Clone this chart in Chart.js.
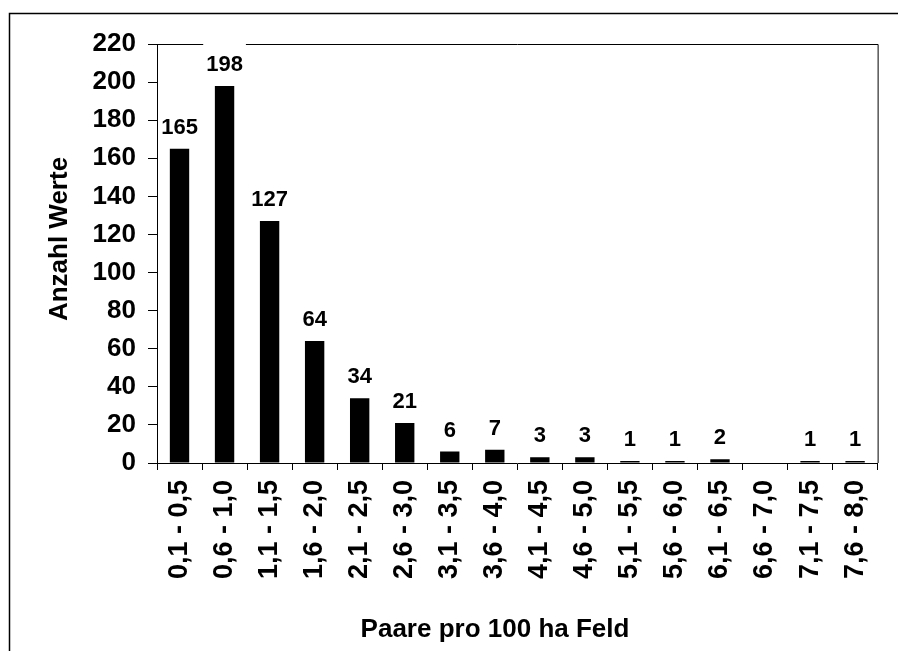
<!DOCTYPE html>
<html>
<head>
<meta charset="utf-8">
<script src="https://cdn.jsdelivr.net/npm/chart.js@4"></script>
<style>
  html, body { margin: 0; padding: 0; background: #fff; }
  #wrap { width: 898px; height: 651px; position: relative; }
</style>
</head>
<body>
<div id="wrap"><canvas id="c"></canvas></div>
<script>
const categories = ["0,1 - 0,5", "0,6 - 1,0", "1,1 - 1,5", "1,6 - 2,0", "2,1 - 2,5", "2,6 - 3,0",
  "3,1 - 3,5", "3,6 - 4,0", "4,1 - 4,5", "4,6 - 5,0", "5,1 - 5,5", "5,6 - 6,0",
  "6,1 - 6,5", "6,6 - 7,0", "7,1 - 7,5", "7,6 - 8,0"];
const values = [165, 198, 127, 64, 34, 21, 6, 7, 3, 3, 1, 1, 2, 0, 1, 1];
const yMin = 0, yMax = 220, yStep = 20;
const xTitle = "Paare pro 100 ha Feld";
const yTitle = "Anzahl Werte";

const FONT = '"Liberation Sans", Arial, sans-serif';

const chromePlugin = {
  id: 'chrome',
  beforeDraw(chart) {
    const ctx = chart.ctx;
    ctx.save();
    ctx.fillStyle = '#fff';
    ctx.fillRect(0, 0, chart.width, chart.height);
    ctx.strokeStyle = '#000';
    ctx.lineWidth = 1.5;
    ctx.beginPath();
    ctx.moveTo(9.5, chart.height + 5);
    ctx.lineTo(9.5, 13.5);
    ctx.lineTo(chart.width + 5, 13.5);
    ctx.stroke();
    ctx.restore();
  },
  afterDatasetsDraw(chart) {
    const ctx = chart.ctx;
    const a = chart.chartArea;
    ctx.save();
    ctx.strokeStyle = '#000';
    ctx.lineWidth = 1;
    ctx.beginPath();
    ctx.moveTo(a.left, a.top + 0.5);
    ctx.lineTo(a.right + 0.5, a.top + 0.5);
    ctx.lineTo(a.right + 0.5, a.bottom);
    ctx.stroke();

    const meta = chart.getDatasetMeta(0);
    ctx.font = 'bold 22px ' + FONT;
    meta.data.forEach((bar, i) => {
      const v = values[i];
      if (!v) return;
      const t = String(v);
      const w = ctx.measureText(t).width;
      const base = bar.y - 15;
      ctx.fillStyle = '#fff';
      ctx.fillRect(bar.x - w / 2 - 3, base - 28, w + 6, 30);
      ctx.fillStyle = '#000';
      ctx.textAlign = 'center';
      ctx.textBaseline = 'alphabetic';
      ctx.fillText(t, bar.x, base);
    });

    ctx.fillStyle = '#000';
    ctx.font = 'bold 26px ' + FONT;
    ctx.textAlign = 'center';
    ctx.textBaseline = 'alphabetic';
    ctx.fillText(xTitle, 495, 637);
    ctx.translate(67, 239);
    ctx.rotate(-Math.PI / 2);
    ctx.fillText(yTitle, 0, 0);
    ctx.restore();
  }
};

new Chart(document.getElementById('c'), {
  type: 'bar',
  data: {
    labels: categories,
    datasets: [{
      data: values,
      backgroundColor: '#000',
      borderWidth: 0,
      barPercentage: 0.43,
      categoryPercentage: 1.0
    }]
  },
  options: {
    responsive: true,
    maintainAspectRatio: false,
    animation: false,
    devicePixelRatio: 1,
    layout: { padding: { top: 44, right: 16, bottom: 0, left: 0 } },
    plugins: { legend: { display: false }, tooltip: { enabled: false }, title: { display: false } },
    scales: {
      x: {
        grid: { display: true, drawOnChartArea: false, drawTicks: true, tickLength: 7, color: '#000', offset: true },
        border: { display: true, color: '#000', width: 1 },
        ticks: {
          color: '#000',
          font: { family: FONT, size: 27, weight: 'bold' },
          minRotation: 90, maxRotation: 90,
          padding: 10,
          autoSkip: false
        },
        afterFit(scale) { scale.height = 188; }
      },
      y: {
        min: yMin, max: yMax,
        grid: { display: true, drawOnChartArea: false, drawTicks: true, tickLength: 9, color: '#000' },
        border: { display: true, color: '#000', width: 1 },
        ticks: {
          stepSize: yStep,
          color: '#000',
          font: { family: FONT, size: 26, weight: 'bold' },
          padding: 12
        },
        afterFit(scale) { scale.width = 157; }
      }
    }
  },
  plugins: [chromePlugin]
});
</script>
</body>
</html>
